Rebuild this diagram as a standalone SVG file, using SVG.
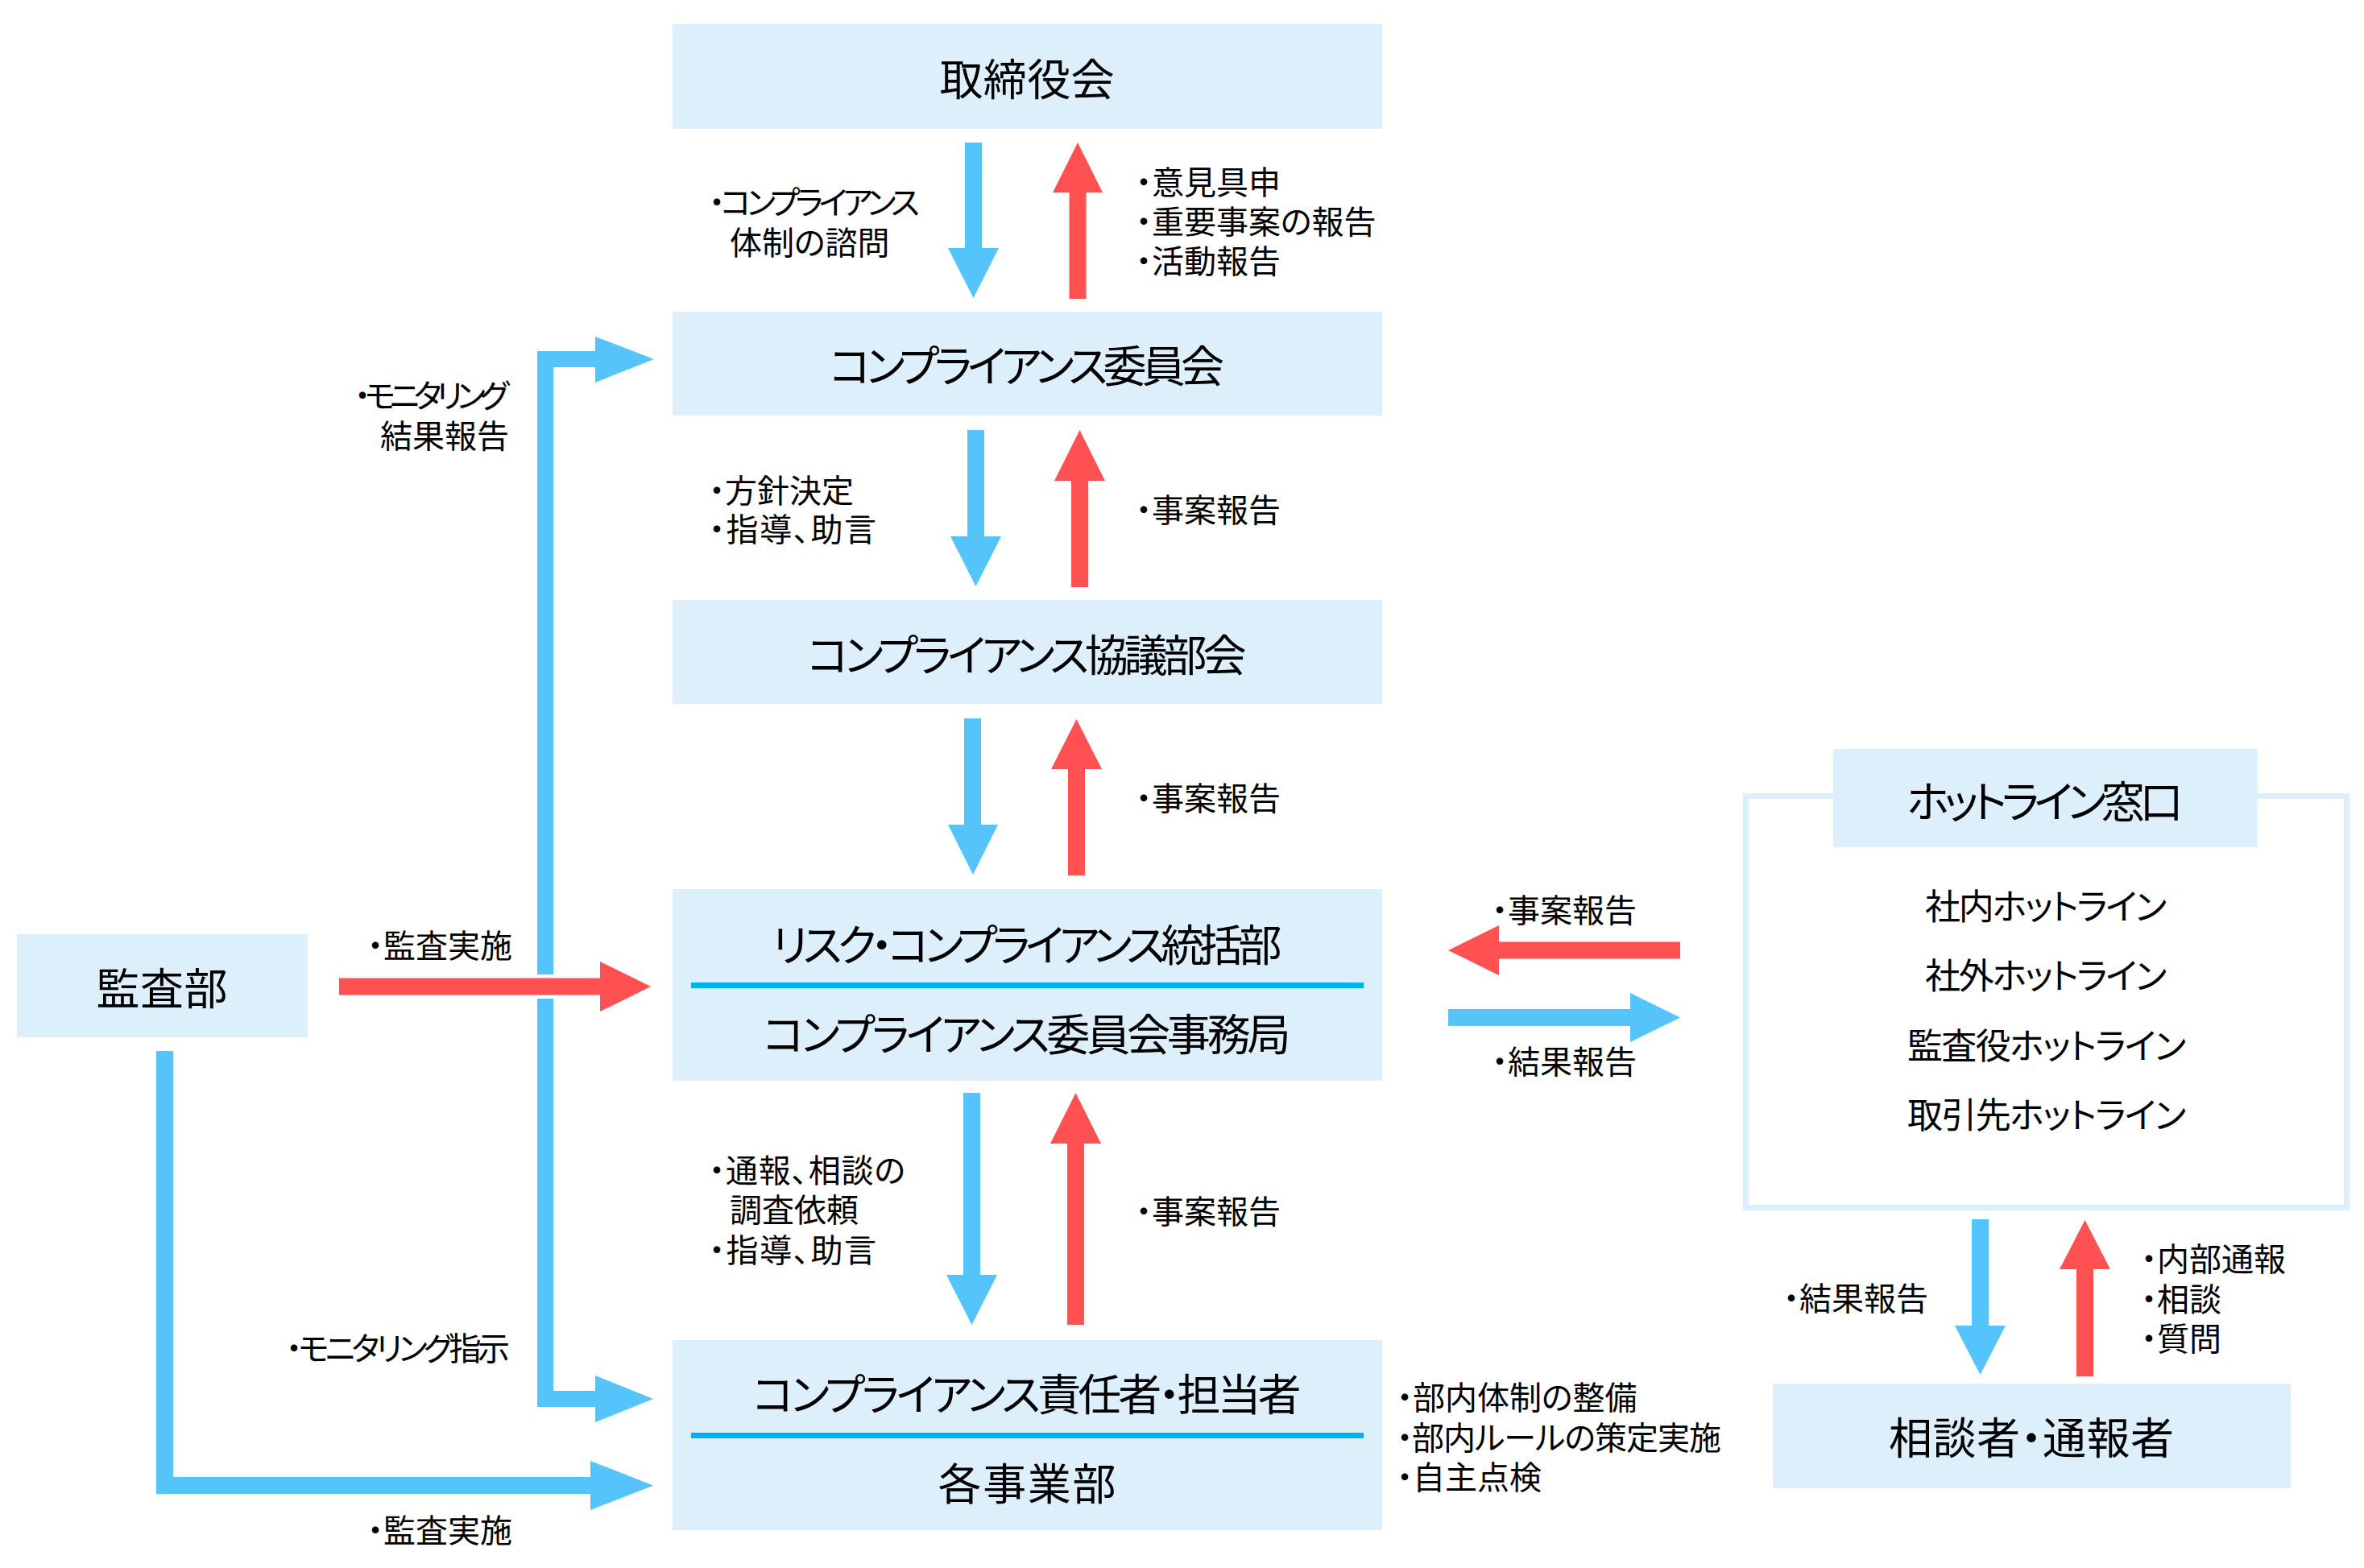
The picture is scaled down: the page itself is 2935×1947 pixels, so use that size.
<svg xmlns="http://www.w3.org/2000/svg" width="2935" height="1947" viewBox="0 0 2935 1947">
<style>
.box{fill:#DCEFFB}
.blue{fill:#55C4FA}
.red{fill:#FF5151}
.div{fill:#00B0F0}
.t{font-family:"Noto Sans CJK JP","Noto Sans",sans-serif;font-feature-settings:"palt";fill:#000;dominant-baseline:central}
.big{font-size:54px;text-anchor:middle}
.mid{font-size:44px;text-anchor:middle}
.sm{font-size:40px}
.end{text-anchor:end}
</style>
<rect width="2935" height="1947" fill="#FFFFFF"/>
<g id="connectors">
  <polygon class="blue" points="1198,177 1219,177 1219,308 1240,308 1208.5,370 1177,308 1198,308"/>
  <polygon class="red" points="1327.5,371 1348.5,371 1348.5,239 1369,239 1338,177 1307,239 1327.5,239"/>
  <polygon class="blue" points="1201,534 1222,534 1222,666 1243,666 1211.5,728 1180,666 1201,666"/>
  <polygon class="red" points="1330,729 1351,729 1351,597 1372,597 1340.5,534 1309,597 1330,597"/>
  <polygon class="blue" points="1197,892 1218,892 1218,1024 1239,1024 1208,1086 1177,1024 1197,1024"/>
  <polygon class="red" points="1326,1087 1347,1087 1347,955 1368,955 1336.5,893 1305,955 1326,955"/>
  <polygon class="blue" points="1196,1357 1217,1357 1217,1583 1238,1583 1206.5,1645 1175,1583 1196,1583"/>
  <polygon class="red" points="1325,1645 1346,1645 1346,1420 1367,1420 1335.5,1357 1304,1420 1325,1420"/>
  <polygon class="blue" points="2448,1514 2469,1514 2469,1646 2490,1646 2458.5,1707 2427,1646 2448,1646"/>
  <polygon class="red" points="2578,1709 2599,1709 2599,1576 2620,1576 2588.5,1515 2557,1576 2578,1576"/>
  <polygon class="red" points="2086,1169.5 2086,1190.5 1861,1190.5 1861,1211 1798,1180 1861,1149 1861,1169.5"/>
  <polygon class="blue" points="1798,1253 1798,1274 2024,1274 2024,1294 2086,1263.5 2024,1233 2024,1253"/>
  <path d="M740 446 H677 V1737 H740" fill="none" stroke="#55C4FA" stroke-width="20" stroke-linejoin="miter"/>
  <polygon class="blue" points="739,418 739,475 812,446"/>
  <polygon class="blue" points="739,1708 739,1766 811,1737"/>
  <path d="M204.5 1305 V1844.5 H736" fill="none" stroke="#55C4FA" stroke-width="21" stroke-linejoin="miter"/>
  <polygon class="blue" points="733,1814 733,1875 811,1844.5"/>
  <rect x="660" y="1210" width="34" height="30" fill="#FFFFFF"/>
  <polygon class="red" points="421,1214.5 745,1214.5 745,1194 808,1225 745,1256 745,1235.5 421,1235.5"/>
</g>
<g id="n-board">
  <rect class="box" x="835" y="30" width="881" height="130"/>
  <text class="t big" x="1275" y="95" textLength="217">取締役会</text>
</g>
<g id="n-committee">
  <rect class="box" x="835" y="387" width="881" height="129"/>
  <text class="t big" x="1275" y="451" textLength="490">コンプライアンス委員会</text>
</g>
<g id="n-council">
  <rect class="box" x="835" y="745" width="881" height="129"/>
  <text class="t big" x="1275" y="810" textLength="545">コンプライアンス協議部会</text>
</g>
<g id="n-risk">
  <rect class="box" x="835" y="1104" width="881" height="238"/>
  <rect class="div" x="858" y="1220" width="835" height="7"/>
  <text class="t big" x="1275" y="1170" textLength="633">リスク・コンプライアンス統括部</text>
  <text class="t big" x="1275" y="1281" textLength="655">コンプライアンス委員会事務局</text>
</g>
<g id="n-officer">
  <rect class="box" x="835" y="1664" width="881" height="236"/>
  <rect class="div" x="858" y="1779" width="835" height="7"/>
  <text class="t big" x="1275" y="1728" textLength="681">コンプライアンス責任者・担当者</text>
  <text class="t big" x="1275" y="1839" textLength="221">各事業部</text>
</g>
<g id="n-audit">
  <rect class="box" x="21" y="1160" width="361" height="128"/>
  <text class="t big" x="201" y="1224" textLength="163">監査部</text>
</g>
<g id="n-hotline">
  <rect x="2167.5" y="988.5" width="746" height="511" fill="none" stroke="#DCEFFB" stroke-width="7"/>
  <rect class="box" x="2276" y="930" width="527" height="122"/>
  <text class="t big" x="2539" y="992" textLength="343">ホットライン窓口</text>
  <text class="t mid" x="2540" y="1123" textLength="300">社内ホットライン</text>
  <text class="t mid" x="2540" y="1209" textLength="300">社外ホットライン</text>
  <text class="t mid" x="2541" y="1296" textLength="346">監査役ホットライン</text>
  <text class="t mid" x="2541" y="1382" textLength="346">取引先ホットライン</text>
</g>
<g id="n-reporter">
  <rect class="box" x="2201" y="1718" width="643" height="130"/>
  <text class="t big" x="2522" y="1782" textLength="354">相談者・通報者</text>
</g>
<g id="labels">
  <text class="t sm" x="880" y="249" textLength="262">・コンプライアンス</text>
  <text class="t sm" x="906" y="299">体制の諮問</text>
  <text class="t sm" x="1410" y="224">・意見具申</text>
  <text class="t sm" x="1410" y="273">・重要事案の報告</text>
  <text class="t sm" x="1410" y="322">・活動報告</text>
  <text class="t sm" x="880" y="607">・方針決定</text>
  <text class="t sm" x="880" y="655" textLength="208">・指導、助言</text>
  <text class="t sm" x="1410" y="631">・事案報告</text>
  <text class="t sm" x="1410" y="989">・事案報告</text>
  <text class="t sm" x="880" y="1451" textLength="244">・通報、相談の</text>
  <text class="t sm" x="906" y="1500">調査依頼</text>
  <text class="t sm" x="880" y="1550" textLength="208">・指導、助言</text>
  <text class="t sm" x="1410" y="1502">・事案報告</text>
  <text class="t sm" x="1852" y="1128">・事案報告</text>
  <text class="t sm" x="1852" y="1316">・結果報告</text>
  <text class="t sm" x="2214" y="1610">・結果報告</text>
  <text class="t sm" x="2658" y="1561">・内部通報</text>
  <text class="t sm" x="2658" y="1611">・相談</text>
  <text class="t sm" x="2658" y="1660">・質問</text>
  <text class="t sm end" x="632" y="489" textLength="192">・モニタリング</text>
  <text class="t sm end" x="632" y="539">結果報告</text>
  <text class="t sm" x="456" y="1172">・監査実施</text>
  <text class="t sm" x="355" y="1672" textLength="278">・モニタリング指示</text>
  <text class="t sm" x="456" y="1898">・監査実施</text>
  <text class="t sm" x="1734" y="1733">・部内体制の整備</text>
  <text class="t sm" x="1734" y="1783" textLength="403">・部内ルールの策定実施</text>
  <text class="t sm" x="1734" y="1832">・自主点検</text>
</g>
</svg>
